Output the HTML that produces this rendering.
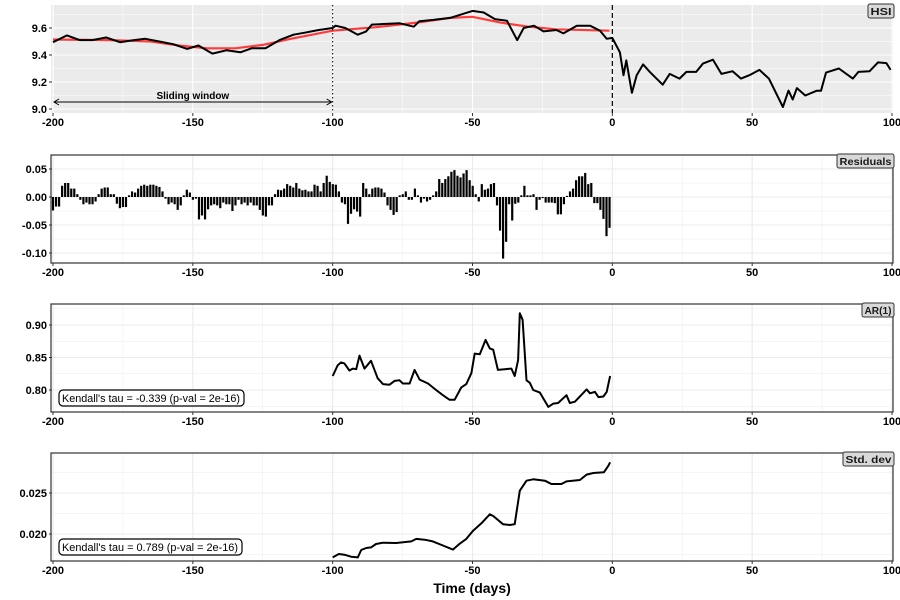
<!DOCTYPE html>
<html><head><meta charset="utf-8"><style>
body{margin:0;background:#fff;}
svg{display:block;font-family:"Liberation Sans",Arial,sans-serif;}
.tick{font-size:11px;font-weight:bold;fill:#000;}
</style></head><body>
<svg id="chart" width="900" height="600" viewBox="0 0 900 600" xmlns="http://www.w3.org/2000/svg"></svg>
<script>
// ---- data ----
const xTicks = [-200, -150, -100, -50, 0, 50, 100];
const hsiDays = [-200,-195,-190.5,-186,-181,-176,-171,-167,-162,-157,-152,-148,-143,-138,-133,-129,-124,-119,-114,-110,-105,-100,-99,-95.5,-91,-88,-86,-81,-76,-71,-69,-64,-58,-50,-46,-42,-37.7,-34,-31.7,-28,-24.6,-20,-17.5,-12.7,-8,-4.4,-2,0,2.7,4,5,7,8.7,11,13.4,18,20.5,24,26.5,30,32.4,36,39,43,46,49,52.6,56,61,63,64.5,66,69,73,74.6,76.4,81,86,88,92,95,98,99.5];
const hsiValues = [9.495,9.545,9.51,9.51,9.53,9.495,9.51,9.52,9.50,9.48,9.445,9.47,9.41,9.435,9.42,9.45,9.45,9.51,9.55,9.565,9.585,9.60,9.617,9.60,9.55,9.575,9.625,9.63,9.635,9.61,9.65,9.66,9.675,9.727,9.715,9.666,9.654,9.51,9.60,9.617,9.575,9.585,9.56,9.617,9.617,9.58,9.52,9.527,9.42,9.25,9.36,9.12,9.25,9.33,9.275,9.18,9.26,9.225,9.275,9.275,9.336,9.365,9.26,9.28,9.225,9.25,9.29,9.225,9.015,9.136,9.07,9.155,9.10,9.135,9.135,9.27,9.30,9.225,9.275,9.28,9.345,9.34,9.29];
const trendDays = [-200,-180,-165,-155,-145,-135,-125,-115,-100,-85,-70,-58,-50,-40,-30,-20,-1];
const trendValues = [9.515,9.51,9.50,9.47,9.45,9.45,9.475,9.52,9.58,9.605,9.64,9.675,9.683,9.64,9.61,9.59,9.58];
const hsiTicks = [9.0, 9.2, 9.4, 9.6];
const residValues = [-2.4,-1.7,-1.7, 2,2.5,2.5,1.5,1.5,0.5, -0.5,-1.3,-1,-1.3,-1.3,-0.8, 0.5,1.5,1.7,1.7,0.5,0.5, -1.2,-2,-1.8,-1.8, 0.3,1,0.8,1.5,2,2.2,2,2.2,2.2,2,1.8,1, -0.3,-1.3,-1,-1.3,-2.3,-1.5, 0.3,1.3,0.8,-0.5,-0.3, -4,-3.3,-4,-2.2,-1.5,-1.3,-1.5,-2,-1,-1.3,-1.3,-2.5,-1.5,-0.5,-1.3,-1,-1.5,-1,-1.5,-1.5,-2.3,-3.3,-3.5,-1.5,-1.5, 0.5,1.3,1.2,1.5,2.3,2,1.7,2.5,1.5,1.2,1.3,1,1,2.2,2,1, 2.5,3.8,2.7,2.3,2.2,1,-1,-1.3, -4.8,-3,-2.2,-2.6,-3.5, 2.5,1.5,0.5,1.5,1.7,1.7,1.5,0.8, -1.5,-2.3,-3.2,-2.7, 0.3,0.5,1,-0.5,-0.5,1.5,0.3,-1,-0.3,-0.8,-0.5,0.3,1, 3.2,2.5,3.2,3.7,4.5,4.8,3.8,3.5,4.2,4.8,3,2,0.5, -0.8, 2.3,1.3,1.5,2.3,2.5, -1.5,-6,-11,-8,-1.3,-4.2,-1.2,-1,0.3,2,0.3,0.3,0.5,-2.3,-0.5,-0.2, -1,-1,-1,-1.1,-3.1,-3.1,-1.3,0.2,1,1.5,3,3.7,3.7,4.3,2.3,2.5, -1.1,-1.1,-2.3,-3.9,-7,-5.5];
const residTicks = [-0.10, -0.05, 0.00, 0.05];
const arDays = [-100,-98.2,-97,-95.8,-94,-92.8,-91.6,-90.4,-88.6,-86.3,-83.9,-82,-79.7,-77.9,-76.1,-74.9,-72.5,-70.7,-68.9,-65.9,-63,-60.6,-58.2,-56.4,-54,-52.2,-50.4,-49.2,-47.4,-45.3,-43.8,-42.6,-40.9,-38.5,-36.1,-34.9,-33.7,-33.1,-32.1,-30.7,-29.5,-28.3,-25.9,-22.9,-21.1,-19.4,-16.4,-15.2,-13.4,-9.2,-8,-6.2,-5,-3.2,-2,-0.8];
const arValues = [0.8215,0.838,0.8425,0.841,0.83,0.833,0.832,0.853,0.833,0.845,0.818,0.809,0.808,0.814,0.815,0.81,0.81,0.831,0.816,0.81,0.80,0.792,0.785,0.785,0.804,0.809,0.826,0.856,0.855,0.877,0.864,0.862,0.831,0.832,0.833,0.8215,0.846,0.918,0.908,0.815,0.811,0.80,0.796,0.774,0.779,0.78,0.792,0.78,0.782,0.801,0.795,0.797,0.789,0.79,0.797,0.8215];
const arTicks = [0.80, 0.85, 0.90];
const sdDays = [-100,-97.8,-95.8,-93.4,-91,-89.8,-88,-86.3,-84.5,-82,-77.3,-71.9,-70.1,-67.1,-64.2,-60.6,-57,-54.6,-52.2,-49.8,-46.8,-43.8,-42.6,-39.1,-36.7,-34.9,-33.1,-30.7,-28.3,-24.1,-21.8,-18.2,-16.4,-11.6,-9.2,-6.8,-3,-1.4,-0.8];
const sdValues = [0.01715,0.01756,0.01748,0.01723,0.01715,0.01805,0.01829,0.01837,0.01878,0.01894,0.0189,0.0191,0.0194,0.0193,0.0191,0.0186,0.0181,0.0188,0.0194,0.0204,0.0213,0.0224,0.0222,0.0212,0.0211,0.0212,0.02528,0.0265,0.02667,0.0265,0.0261,0.0261,0.02642,0.02658,0.02724,0.02744,0.02752,0.02833,0.02874];
const sdTicks = [0.020, 0.025];

// ---- layout ----
const svg = document.getElementById('chart');
const NS = 'http://www.w3.org/2000/svg';
const L = 52, R = 893;
const xS = d => 53 + (d + 200) * (839 / 300);
function mk(tag, attrs, parent){ const e = document.createElementNS(NS, tag); for (const k in attrs) e.setAttribute(k, attrs[k]); (parent||svg).appendChild(e); return e; }
function panel(top, bottom, y0, v0, y1, v1){ const k=(y1-y0)/(v1-v0); return {top, bottom, y: v => y0 + (v - v0) * k}; }

const P1 = panel(5, 113, 28, 9.6, 109, 9.0);
const P2 = panel(155, 263, 197, 0, 253, -0.10);
const P3 = panel(304, 412, 325, 0.90, 390, 0.80);
const P4 = panel(453, 561, 534, 0.020, 493, 0.025);

function pathFrom(days, vals, P){ return days.map((d,i)=>(i?'L':'M')+xS(d).toFixed(1)+','+P.y(vals[i]).toFixed(1)).join(''); }

function xAxis(P){
  const g = mk('g', {});
  
  
  xTicks.forEach(t => {
    const x = xS(t);
    mk('line', {x1:x, x2:x, y1:P.bottom, y2:P.bottom+3, stroke:'#333', 'stroke-width':1}, g);
    const tx = mk('text', {x:x, y:P.bottom+13, 'text-anchor':'middle', class:'tick'}, g);
    tx.textContent = t;
  });
}
function yAxis(P, ticks, fmt){
  const g = mk('g', {});
  
  
  ticks.forEach(t => {
    const y = P.y(t);
    mk('line', {x1:L-3, x2:L, y1:y, y2:y, stroke:'#333', 'stroke-width':1}, g);
    const tx = mk('text', {x:L-5, y:y+4, 'text-anchor':'end', class:'tick'}, g);
    tx.textContent = fmt(t);
  });
}
function grids(P, ticks, col, minor){
  xTicks.forEach((t,i) => {
    mk('line', {x1:xS(t), x2:xS(t), y1:P.top, y2:P.bottom, stroke:col, 'stroke-width':1.1});
    if (i < xTicks.length-1) { const m = xS(t+25); mk('line', {x1:m, x2:m, y1:P.top, y2:P.bottom, stroke:col, 'stroke-width':0.5}); }
  });
  ticks.forEach(t => mk('line', {x1:L, x2:R, y1:P.y(t), y2:P.y(t), stroke:col, 'stroke-width':1.1}));
  minor.forEach(t => mk('line', {x1:L, x2:R, y1:P.y(t), y2:P.y(t), stroke:col, 'stroke-width':0.5}));
}
function strip(x1, top, label, name){
  const g = mk('g', {});
  
  
  mk('rect', {x:x1, y:top-1, width:R-x1+1, height:14, rx:2, fill:'#d9d9d9', stroke:'#333', 'stroke-width':1}, g);
  const t = mk('text', {x:x1+2.5, y:top+10, 'font-size':10.5, 'font-weight':'bold', fill:'#1a1a1a', textLength:(R-x1-4), lengthAdjust:'spacingAndGlyphs'}, g);
  t.textContent = label;
}
function tauBox(P, label, name, w){
  const g = mk('g', {});
  
  
  const y = P.bottom - 22;
  mk('rect', {x:59, y:y, width:w, height:16, rx:4, fill:'#fff', stroke:'#000', 'stroke-width':1.2}, g);
  const t = mk('text', {x:62, y:y+12, 'font-size':11, fill:'#000', textLength:w-7, lengthAdjust:'spacingAndGlyphs'}, g);
  t.textContent = label;
}

// Panel 1: HSI
mk('rect', {x:L-1, y:P1.top, width:R-L+1, height:P1.bottom-P1.top, fill:'#ebebeb'});
grids(P1, hsiTicks, '#fff', [9.1, 9.3, 9.5, 9.7]);
const trend = mk('path', {d:pathFrom(trendDays, trendValues, P1), fill:'none', stroke:'#ff3b3b', 'stroke-width':2.2});

const hsi = mk('path', {d:pathFrom(hsiDays, hsiValues, P1), fill:'none', stroke:'#000', 'stroke-width':2, 'stroke-linejoin':'round'});

const dot = mk('line', {x1:xS(-100), x2:xS(-100), y1:P1.top, y2:P1.bottom, stroke:'#000', 'stroke-width':1, 'stroke-dasharray':'1.5,2.5'});

const dash = mk('line', {x1:xS(0), x2:xS(0), y1:P1.top, y2:P1.bottom, stroke:'#000', 'stroke-width':1.2, 'stroke-dasharray':'5,3'});

const arr = mk('g', {});


mk('line', {x1:xS(-200)+1, x2:xS(-100)-1, y1:102, y2:102, stroke:'#000', 'stroke-width':1}, arr);
mk('path', {d:`M${xS(-200)+6},99 L${xS(-200)+1},102 L${xS(-200)+6},105 M${xS(-100)-6},99 L${xS(-100)-1},102 L${xS(-100)-6},105`, fill:'none', stroke:'#000', 'stroke-width':1}, arr);
const sw = mk('text', {x:xS(-150), y:99, 'text-anchor':'middle', 'font-size':10, 'font-weight':'bold', fill:'#000'}, arr);
sw.textContent = 'Sliding window';
strip(868, 5, 'HSI', 'hsi-strip');
yAxis(P1, hsiTicks, t => t.toFixed(1));
xAxis(P1);

// Panel 2: Residuals
grids(P2, residTicks, '#ebebeb', [-0.075, -0.025, 0.025]);
const bw = 2.2;
residValues.forEach((v, i) => {
  const d = -200 + i * (199 / (residValues.length - 1));
  const val = v / 100;
  const y0 = P2.y(0), y1 = P2.y(val);
  const r = mk('rect', {x:xS(d)-bw/2, y:Math.min(y0,y1), width:bw, height:Math.max(0.5,Math.abs(y1-y0)), fill:'#000'});
  
  
});
mk('rect', {x:L-1, y:P2.top, width:R-L+1, height:P2.bottom-P2.top, fill:'none', stroke:'#333', 'stroke-width':1.2});
strip(837, 155, 'Residuals', 'residuals-strip');
yAxis(P2, residTicks, t => t.toFixed(2));
xAxis(P2);

// Panel 3: AR(1)
grids(P3, arTicks, '#ebebeb', [0.775, 0.825, 0.875, 0.925]);
const ar = mk('path', {d:pathFrom(arDays, arValues, P3), fill:'none', stroke:'#000', 'stroke-width':2, 'stroke-linejoin':'round'});

mk('rect', {x:L-1, y:P3.top, width:R-L+1, height:P3.bottom-P3.top, fill:'none', stroke:'#333', 'stroke-width':1.2});
strip(862, 304, 'AR(1)', 'ar1-strip');
tauBox(P3, "Kendall's tau = -0.339 (p-val = 2e-16)", 'ar1-tau-label', 185);
yAxis(P3, arTicks, t => t.toFixed(2));
xAxis(P3);

// Panel 4: Std. dev
grids(P4, sdTicks, '#ebebeb', [0.0175, 0.0225, 0.0275]);
const sd = mk('path', {d:pathFrom(sdDays, sdValues, P4), fill:'none', stroke:'#000', 'stroke-width':2, 'stroke-linejoin':'round'});

mk('rect', {x:L-1, y:P4.top, width:R-L+1, height:P4.bottom-P4.top, fill:'none', stroke:'#333', 'stroke-width':1.2});
strip(843, 453, 'Std. dev', 'stddev-strip');
tauBox(P4, "Kendall's tau = 0.789 (p-val = 2e-16)", 'stddev-tau-label', 183);
yAxis(P4, sdTicks, t => t.toFixed(3));
xAxis(P4);

const title = mk('text', {x:472, y:593, 'text-anchor':'middle', 'font-size':14, 'font-weight':'bold', fill:'#000'});


title.textContent = 'Time (days)';
</script>
</body></html>
